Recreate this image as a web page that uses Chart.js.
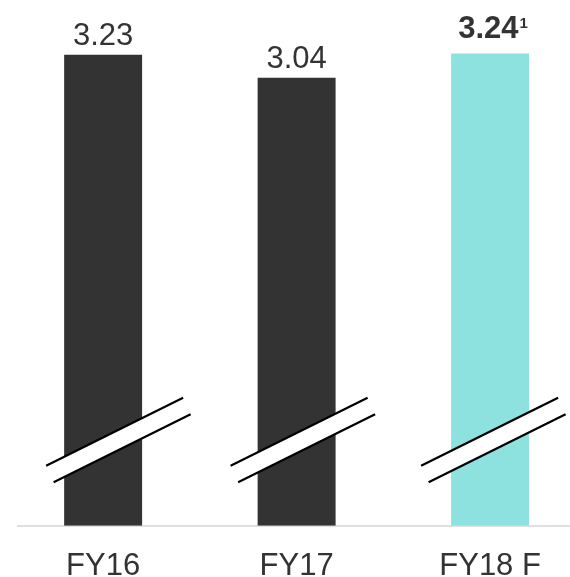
<!DOCTYPE html>
<html>
<head>
<meta charset="utf-8">
<script src="https://cdn.jsdelivr.net/npm/chart.js@4/dist/chart.umd.min.js"></script>
<style>
html,body{margin:0;padding:0;background:#fff;overflow:hidden;}
#wrap{width:570px;height:577px;position:relative;}
</style>
</head>
<body>
<div id="wrap"><canvas id="c"></canvas></div>
<script>
// Data
const categories = ["FY16", "FY17", "FY18 F"];
const values = [3.23, 3.04, 3.24];
const valueLabels = ["3.23", "3.04", "3.24"];
const footnotes = ["", "", "1"];
const barColors = ["#333333", "#333333", "#8de1df"];

const Y_MIN = -0.66, Y_MAX = 3.6;
const TEXT = "#333333";
const FONT = '"Liberation Sans", Arial, sans-serif';

const breakPlugin = {
  id: 'breaks',
  afterDatasetsDraw(chart) {
    const ctx = chart.ctx;
    const xs = chart.scales.x;
    const bottom = chart.chartArea.bottom;
    const shifts = [-57, -66, -69];
    ctx.save();
    categories.forEach((c, i) => {
      const cx = xs.getPixelForValue(i);
      const x1 = cx + shifts[i], y1 = bottom - 60;
      const x2 = x1 + 137, y2 = bottom - 128;
      const dx = 7.5, dy = 16.5;
      ctx.fillStyle = '#ffffff';
      ctx.beginPath();
      ctx.moveTo(x1, y1); ctx.lineTo(x2, y2);
      ctx.lineTo(x2 + dx, y2 + dy); ctx.lineTo(x1 + dx, y1 + dy);
      ctx.closePath(); ctx.fill();
      ctx.strokeStyle = '#000000';
      ctx.lineWidth = 2.2;
      ctx.beginPath();
      ctx.moveTo(x1, y1); ctx.lineTo(x2, y2);
      ctx.moveTo(x1 + dx, y1 + dy); ctx.lineTo(x2 + dx, y2 + dy);
      ctx.stroke();
    });
    // value labels
    const meta = chart.getDatasetMeta(0);
    meta.data.forEach((bar, i) => {
      const txt = valueLabels[i];
      const fn = footnotes[i];
      ctx.fillStyle = TEXT;
      ctx.textBaseline = 'alphabetic';
      if (fn) {
        ctx.font = 'bold 31px ' + FONT;
        const w1 = ctx.measureText(txt).width;
        ctx.font = 'bold 15px ' + FONT;
        const w2 = ctx.measureText(fn).width;
        const total = w1 + 1 + w2;
        const start = bar.x + 3 - total / 2;
        const base = bar.y - 16;
        ctx.textAlign = 'left';
        ctx.font = 'bold 31px ' + FONT;
        ctx.fillText(txt, start, base);
        ctx.font = 'bold 15px ' + FONT;
        ctx.fillText(fn, start + w1 + 1, base - 10);
      } else {
        ctx.font = '31px ' + FONT;
        ctx.textAlign = 'center';
        ctx.fillText(txt, bar.x, bar.y - 10);
      }
    });
    ctx.restore();
  }
};

new Chart(document.getElementById('c'), {
  type: 'bar',
  data: {
    datasets: [{
      data: categories.map((c, i) => ({ x: i, y: values[i] })),
      base: Y_MIN,
      backgroundColor: barColors,
      borderWidth: 0,
      barPercentage: 0.403,
      categoryPercentage: 1
    }]
  },
  options: {
    responsive: true,
    maintainAspectRatio: false,
    animation: false,
    layout: { padding: { left: 18, right: 0, top: 10, bottom: -30 } },
    plugins: { legend: { display: false }, tooltip: { enabled: false } },
    scales: {
      x: {
        type: 'linear',
        offset: false,
        min: -0.44,
        max: 2.413,
        afterBuildTicks: (s) => { s.ticks = categories.map((c, i) => ({ value: i })); },
        ticks: {
          callback: (v) => categories[v] ?? '',
          color: TEXT,
          font: { size: 31, family: FONT },
          padding: 22,
          maxRotation: 0,
          autoSkip: false
        },
        grid: { display: false, drawTicks: false },
        border: { display: true, color: '#e0e0e0', width: 2 }
      },
      y: {
        display: false,
        min: Y_MIN,
        max: Y_MAX
      }
    }
  },
  plugins: [breakPlugin]
});
</script>
</body>
</html>
